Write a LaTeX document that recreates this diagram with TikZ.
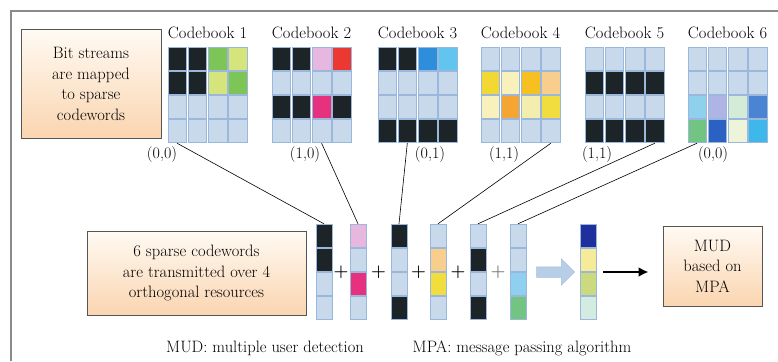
\documentclass[tikz,border=0pt]{standalone}
\usetikzlibrary{shapes.arrows,arrows.meta,calc}

% cell colours
\definecolor{kBlack}{HTML}{1C2427}
\definecolor{kCell}{HTML}{C9D9EC}
\definecolor{kCellLine}{HTML}{9BB7DC}
\definecolor{kGreen}{HTML}{7CC556}
\definecolor{kYelGreen}{HTML}{D6E47C}
\definecolor{kPink}{HTML}{E7B7DF}
\definecolor{kRed}{HTML}{EC3833}
\definecolor{kMagenta}{HTML}{E6327E}
\definecolor{kBlue}{HTML}{2E8EDC}
\definecolor{kCyan}{HTML}{62C5EF}
\definecolor{kYellow}{HTML}{F3D733}
\definecolor{kPaleYel}{HTML}{F8F1BC}
\definecolor{kGold}{HTML}{F6C020}
\definecolor{kLtOrange}{HTML}{F8CE8C}
\definecolor{kOrange}{HTML}{F4A532}
\definecolor{kPaleYelB}{HTML}{F4EEAE}
\definecolor{kYellowB}{HTML}{F1DD3E}
\definecolor{kLtCyan}{HTML}{8ED0EE}
\definecolor{kLavender}{HTML}{AEB4E6}
\definecolor{kPaleGreen}{HTML}{D3EBD7}
\definecolor{kMidBlue}{HTML}{4B84D3}
\definecolor{kSeaGreen}{HTML}{72C483}
\definecolor{kDeepBlue}{HTML}{2A61C3}
\definecolor{kIvory}{HTML}{EEF4D9}
\definecolor{kSky}{HTML}{3EB8EA}
\definecolor{kNavy}{HTML}{1F2F9B}
\definecolor{kSoftYel}{HTML}{F6EB99}
\definecolor{kOlive}{HTML}{CBDA7F}
\definecolor{kMint}{HTML}{D4EBE2}
% boxes and lines
\definecolor{boxTop}{HTML}{FFFAF3}
\definecolor{boxBottom}{HTML}{FAD5B0}
\definecolor{boxEdge}{HTML}{555555}
\definecolor{frameGray}{HTML}{8A8A8A}
\definecolor{hollowFill}{HTML}{B7CEE6}
\definecolor{hollowEdge}{HTML}{A2BEDD}

\tikzset{
  colnode/.style={rectangle, inner sep=0pt, minimum height=96pt},
  cblabel/.style={inner sep=0pt, font=\fontsize{16.5}{20.5}\selectfont},
  bitlabel/.style={inner sep=0pt, font=\fontsize{16}{20}\selectfont},
  textbox/.style={draw=boxEdge, line width=1pt, top color=boxTop, bottom color=boxBottom,
    align=center, inner sep=0pt, font=\fontsize{16.5}{20.5}\selectfont},
  conn/.style={draw=black, line width=0.6pt},
  plussign/.style={inner sep=0pt, font=\fontsize{17}{17}\bfseries\selectfont},
  caption/.style={inner sep=0pt, font=\fontsize{16.5}{20.5}\selectfont},
}

% one codeword column: name, left x, top y, width, colour list (top to bottom)
\newcommand{\cwcol}[5]{%
  \node[colnode, minimum width=#4pt] (#1) at ({#2+#4/2},{#3+48}) {};
  \foreach \clr [count=\k from 0] in #5 {%
    \filldraw[fill=\clr, draw=kCellLine, line width=0.5pt]
      ({#2+0.8},{#3+24*\k+0.3}) rectangle ({#2+#4-0.8},{#3+24*\k+23.7});
  }%
}
% a codebook: index, left x, list of four column colour lists
\newcommand{\codebook}[3]{%
  \node[cblabel] (cbl#1) at ({#2+40.5},33) {Codebook #1};
  \foreach \cols [count=\j] in {#3} {%
    \cwcol{cb#1c\j}{#2+20.3*(\j-1)}{47}{20}{\cols}
  }%
}

\begin{document}
\begin{tikzpicture}[x=1pt, y=-1pt]
\useasboundingbox (0,0) rectangle (778,361);

% outer frame
\draw[frameGray, line width=1.5pt] (11,361) -- (11,11) -- (778,11);

% codebooks
\codebook{1}{167}{{kBlack,kBlack,kCell,kCell},{kBlack,kBlack,kCell,kCell},{kGreen,kYelGreen,kCell,kCell},{kYelGreen,kGreen,kCell,kCell}}
\codebook{2}{271}{{kBlack,kCell,kBlack,kCell},{kBlack,kCell,kBlack,kCell},{kPink,kCell,kMagenta,kCell},{kRed,kCell,kBlack,kCell}}
\codebook{3}{377}{{kBlack,kCell,kCell,kBlack},{kBlack,kCell,kCell,kBlack},{kBlue,kCell,kCell,kBlack},{kCyan,kCell,kCell,kBlack}}
\codebook{4}{480}{{kCell,kYellow,kPaleYel,kCell},{kCell,kPaleYel,kOrange,kCell},{kCell,kGold,kPaleYelB,kCell},{kCell,kLtOrange,kYellowB,kCell}}
\codebook{5}{584}{{kCell,kBlack,kCell,kBlack},{kCell,kBlack,kCell,kBlack},{kCell,kBlack,kCell,kBlack},{kCell,kBlack,kCell,kBlack}}
\codebook{6}{687}{{kCell,kCell,kLtCyan,kSeaGreen},{kCell,kCell,kLavender,kDeepBlue},{kCell,kCell,kPaleGreen,kIvory},{kCell,kCell,kMidBlue,kSky}}

% chosen codewords
\cwcol{w1}{315}{224}{18}{{kBlack,kBlack,kCell,kCell}}
\cwcol{w2}{349}{224}{18}{{kPink,kCell,kMagenta,kCell}}
\cwcol{w3}{390}{224}{18}{{kBlack,kCell,kCell,kBlack}}
\cwcol{w4}{429}{224}{18}{{kCell,kLtOrange,kYellowB,kCell}}
\cwcol{w5}{469}{224}{18}{{kCell,kBlack,kCell,kBlack}}
\cwcol{w6}{509}{224}{18}{{kCell,kCell,kLtCyan,kSeaGreen}}
% superimposed signal
\cwcol{res}{579}{224}{18}{{kNavy,kSoftYel,kOlive,kMint}}

% plus signs
\node[plussign] (p1) at ($(w1.east)!0.5!(w2.west)$) {+};
\node[plussign] (p2) at ($(w2.east)!0.5!(w3.west)$) {+};
\node[plussign] (p3) at ($(w3.east)!0.5!(w4.west)$) {+};
\node[plussign] (p4) at ($(w4.east)!0.5!(w5.west)$) {+};
\node[plussign, text=black!55] (p5) at ($(w5.east)!0.5!(w6.west)$) {+};

% bit labels
\node[bitlabel] (b1) at (162,155) {(0,0)};
\node[bitlabel] (b2) at (305,155) {(1,0)};
\node[bitlabel] (b3) at (430,155) {(0,1)};
\node[bitlabel] (b4) at (504,155) {(1,1)};
\node[bitlabel] (b5) at (597,155) {(1,1)};
\node[bitlabel] (b6) at (713,155) {(0,0)};

% codeword selection
\draw[conn] (cb1c1.south) -- (w1.north);
\draw[conn] (cb2c3.south) -- (w2.north);
\draw[conn] (cb3c2.south) -- (w3.north);
\draw[conn] (cb4c4.south) -- (w4.north);
\draw[conn] (cb5c4.south) -- (w5.north);
\draw[conn] (cb6c1.south) -- (w6.north);

% explanatory boxes
\node[textbox, minimum width=140pt, minimum height=108pt] (mapbox) at (91,84)
  {Bit streams\\are mapped\\to sparse\\codewords};
\node[textbox, minimum width=219pt, minimum height=84pt] (txbox) at (196.5,273)
  {6 sparse codewords\\are transmitted over 4\\orthogonal resources};
\node[textbox, minimum width=99pt, minimum height=80pt] (mud) at (712.5,266)
  {MUD\\based on\\MPA};

% hollow arrow to the received signal
\node[single arrow, fill=hollowFill, draw=hollowEdge, line width=0.5pt,
      inner sep=5pt, minimum height=38pt, single arrow head extend=8pt]
  (harrow) at ($(w6.east)!0.5!(res.west)$) {};

% detection arrow
\draw[line width=2.6pt, -{Latex[length=10pt,width=10pt]}, shorten <=6pt, shorten >=14pt]
  (res.east) -- (res.east -| mud.west);

% captions
\node[caption] (cap1) at (265,348) {MUD: multiple user detection};
\node[caption] (cap2) at (522,348) {MPA: message passing algorithm};
\end{tikzpicture}
\end{document}
